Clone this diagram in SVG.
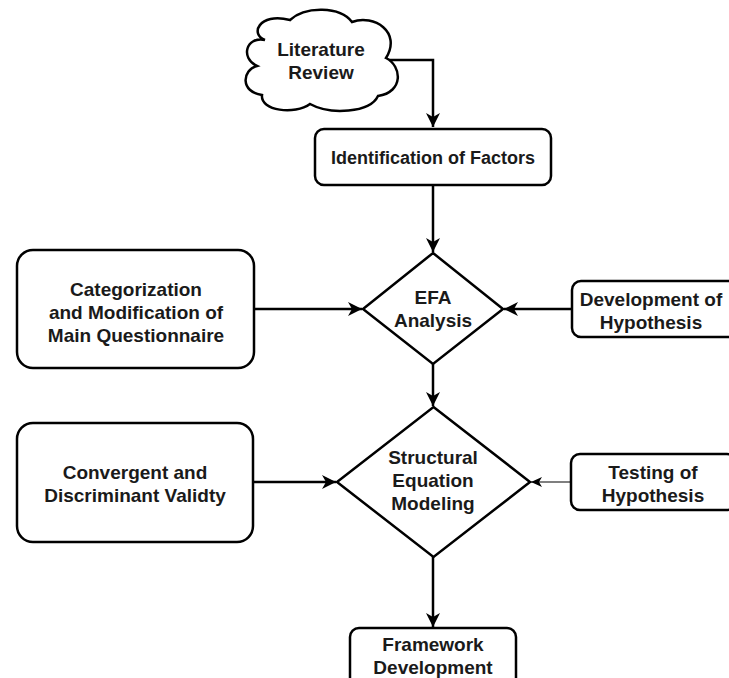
<svg xmlns="http://www.w3.org/2000/svg" width="729" height="678" viewBox="0 0 729 678">
<style>
.n{fill:#fff;stroke:#000;stroke-width:2.5}
.t{font-family:"Liberation Sans",Arial,sans-serif;font-weight:bold;font-size:19px;fill:#1a1a1a;text-anchor:middle}
.c{fill:none;stroke:#000;stroke-width:2.5}
.thin{fill:none;stroke:#000;stroke-width:1.2}
</style>
<defs>
<marker id="a" markerUnits="userSpaceOnUse" markerWidth="16" markerHeight="14" refX="14" refY="7" orient="auto" viewBox="0 0 16 14">
<path d="M0,0 L14,7 L0,14 L4,7 Z" fill="#000"/>
</marker>
<marker id="b" markerUnits="userSpaceOnUse" markerWidth="12" markerHeight="10" refX="11" refY="5" orient="auto" viewBox="0 0 12 10">
<path d="M0,0 L11,5 L0,10 L3,5 Z" fill="#000"/>
</marker>
</defs>
<g id="connectors">
<path class="c" d="M387,60 L433,60 L433,127" marker-end="url(#a)"/>
<path class="c" d="M433,185 L433,252" marker-end="url(#a)"/>
<path class="c" d="M254,309 L362,309" marker-end="url(#a)"/>
<path class="c" d="M572,309 L504,309" marker-end="url(#a)"/>
<path class="c" d="M433,364 L433,406" marker-end="url(#a)"/>
<path class="c" d="M253,482 L336,482" marker-end="url(#a)"/>
<path class="thin" d="M571,482 L531,482" marker-end="url(#b)"/>
<path class="c" d="M433,557 L433,627" marker-end="url(#a)"/>
</g>
<g id="literature-review">
<path class="n" d="M265,40 C250,35 258,12 290,20 C305,6 340,6 352,22 C374,14 402,32 386,58 C402,66 404,92 378,96 C370,113 330,115 310,104 C295,115 260,111 262,95 C240,92 242,70 257,66 C240,58 246,36 265,40 Z"/>
<text class="t" x="321" y="56">Literature</text>
<text class="t" x="321" y="79">Review</text>
</g>
<g id="identification">
<rect class="n" x="315" y="129" width="236" height="56" rx="9"/>
<text class="t" x="433" y="164" style="font-size:18px">Identification of Factors</text>
</g>
<g id="categorization">
<rect class="n" x="17" y="250" width="237" height="118" rx="16"/>
<text class="t" x="136" y="296">Categorization</text>
<text class="t" x="136" y="319">and Modification of</text>
<text class="t" x="136" y="342">Main Questionnaire</text>
</g>
<g id="efa">
<path class="n" d="M433,253 L503,309 L433,364 L363,309 Z"/>
<text class="t" x="433" y="304">EFA</text>
<text class="t" x="433" y="327">Analysis</text>
</g>
<g id="development-hypothesis">
<rect class="n" x="572" y="281" width="165" height="56" rx="9"/>
<text class="t" x="651" y="306">Development of</text>
<text class="t" x="651" y="329">Hypothesis</text>
</g>
<g id="convergent">
<rect class="n" x="17" y="423" width="236" height="119" rx="16"/>
<text class="t" x="135" y="479">Convergent and</text>
<text class="t" x="135" y="502">Discriminant Validty</text>
</g>
<g id="sem">
<path class="n" d="M433.5,407 L530,482 L433.5,557 L337,482 Z"/>
<text class="t" x="433" y="464">Structural</text>
<text class="t" x="433" y="487">Equation</text>
<text class="t" x="433" y="510">Modeling</text>
</g>
<g id="testing-hypothesis">
<rect class="n" x="571" y="454" width="165" height="56" rx="9"/>
<text class="t" x="653" y="479">Testing of</text>
<text class="t" x="653" y="502">Hypothesis</text>
</g>
<g id="framework">
<rect class="n" x="350" y="628" width="166" height="70" rx="9"/>
<text class="t" x="433" y="651">Framework</text>
<text class="t" x="433" y="674">Development</text>
</g>
</svg>
